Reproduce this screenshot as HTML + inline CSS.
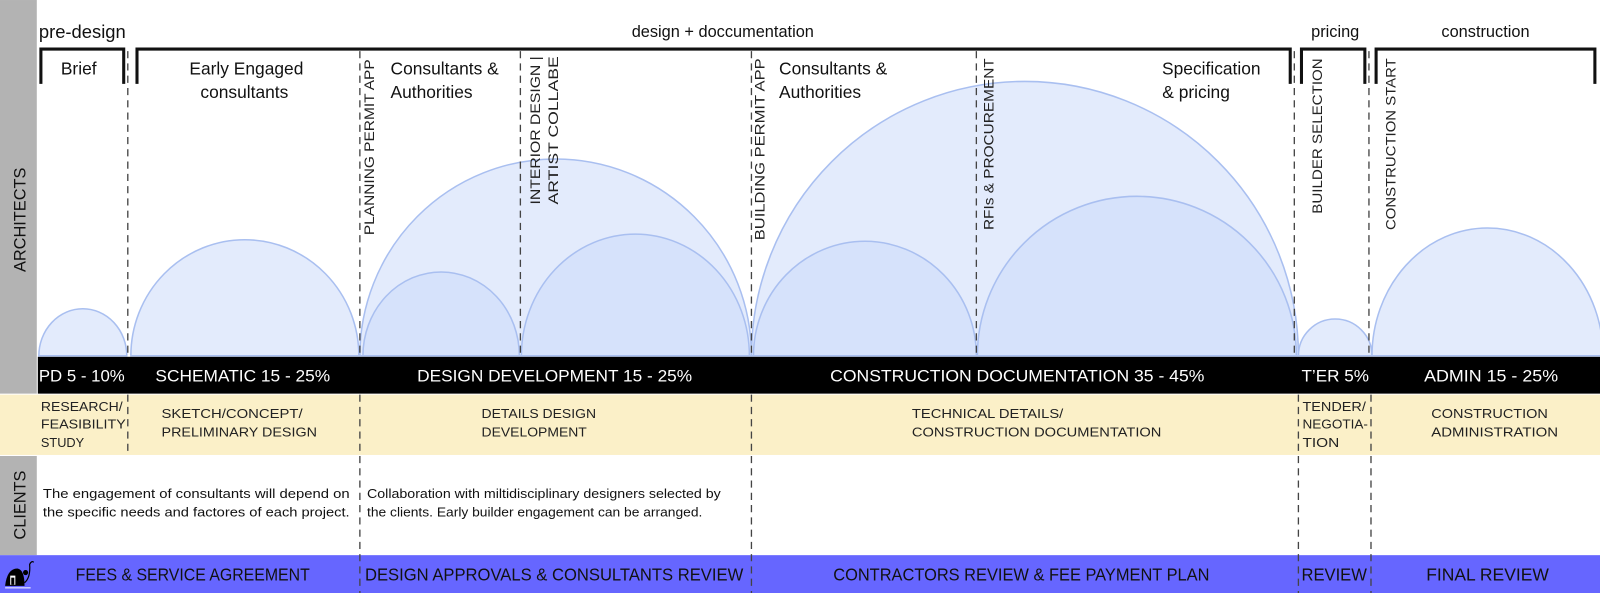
<!DOCTYPE html>
<html><head><meta charset="utf-8"><style>
html,body{margin:0;padding:0;background:#fff;}
svg{display:block;}
text{font-family:"Liberation Sans",sans-serif;}
</style></head><body>
<svg width="1600" height="593" viewBox="0 0 1565 580" xmlns="http://www.w3.org/2000/svg">
<rect x="0" y="0" width="1565" height="580" fill="#fff"/>
<rect x="0" y="0" width="36" height="385" fill="#b3b3b3"/>
<rect x="0" y="446" width="36" height="97" fill="#b3b3b3"/>
<text transform="translate(25,215) rotate(-90)" font-size="16" text-anchor="middle" fill="#111">ARCHITECTS</text>
<text transform="translate(25,494) rotate(-90)" font-size="16" text-anchor="middle" fill="#111">CLIENTS</text>

<g stroke="#a9bff0" stroke-width="1.5">
<path d="M38,348 A43,46 0 0 1 124,348 Z" fill="#e3ebfc"/>
<path d="M128,348 A111,113 0 0 1 351,348 Z" fill="#e3ebfc"/>
<path d="M352,348 A191,192 0 0 1 735,348 Z" fill="#e3ebfc"/>
<path d="M355,348 A76.5,82 0 0 1 508,348 Z" fill="#d6e2fb"/>
<path d="M510,348 A111.5,119 0 0 1 733,348 Z" fill="#d6e2fb"/>
<path d="M735,348 A267,268 0 0 1 1270,348 Z" fill="#e3ebfc"/>
<path d="M737,348 A109,112 0 0 1 955,348 Z" fill="#d6e2fb"/>
<path d="M956,348 A156,156 0 0 1 1268,348 Z" fill="#d6e2fb"/>
<path d="M1270,348 A36,36 0 0 1 1342,348 Z" fill="#e3ebfc"/>
<path d="M1342,348 A113,125 0 0 1 1568,348 Z" fill="#e3ebfc"/>
</g>

<rect x="37" y="349" width="1528" height="36" fill="#000"/>
<rect x="0" y="386" width="1565" height="59" fill="#fbf0c8"/>
<rect x="0" y="543" width="1565" height="38" fill="#6666ff"/>

<g stroke="#444" stroke-width="1.3" stroke-dasharray="7,5">
<line x1="125" y1="50" x2="125" y2="348"/><line x1="125" y1="386" x2="125" y2="445"/>
<line x1="352" y1="50" x2="352" y2="348"/><line x1="352" y1="386" x2="352" y2="581"/>
<line x1="509" y1="50" x2="509" y2="348"/>
<line x1="735" y1="50" x2="735" y2="348"/><line x1="735" y1="386" x2="735" y2="581"/>
<line x1="955" y1="50" x2="955" y2="348"/>
<line x1="1266" y1="50" x2="1266" y2="348"/><line x1="1270" y1="386" x2="1270" y2="581"/>
<line x1="1339" y1="50" x2="1339" y2="348"/><line x1="1341" y1="386" x2="1341" y2="581"/>
</g>

<g fill="none" stroke="#111" stroke-width="3">
<path d="M40,82 V48 H121 V82"/>
<path d="M134,82 V48 H1262 V82"/>
<path d="M1273,82 V48 H1335 V82"/>
<path d="M1346,82 V48 H1560 V82"/>
</g>

<g fill="#111">
<text x="38" y="37" font-size="18">pre-design</text>
<text x="707" y="36" font-size="16" text-anchor="middle">design + doccumentation</text>
<text x="1306" y="36" font-size="16" text-anchor="middle">pricing</text>
<text x="1453" y="36" font-size="16" text-anchor="middle">construction</text>
<text x="77" y="73" font-size="17" text-anchor="middle">Brief</text>
<text x="241" y="73" font-size="17" text-anchor="middle">Early Engaged</text>
<text x="239" y="96" font-size="17" text-anchor="middle">consultants</text>
<text x="382" y="73" font-size="17">Consultants &amp;</text>
<text x="382" y="96" font-size="17">Authorities</text>
<text x="762" y="73" font-size="17">Consultants &amp;</text>
<text x="762" y="96" font-size="17">Authorities</text>
<text x="1233" y="73" font-size="17" text-anchor="end">Specification</text>
<text x="1203" y="96" font-size="17" text-anchor="end">&amp; pricing</text>
</g>

<g fill="#222" font-size="13.5">
<text transform="translate(366,230) rotate(-90)" textLength="172" lengthAdjust="spacingAndGlyphs">PLANNING PERMIT APP</text>
<text transform="translate(528,200) rotate(-90)" textLength="145" lengthAdjust="spacingAndGlyphs">INTERIOR DESIGN |</text>
<text transform="translate(546,200) rotate(-90)" textLength="145" lengthAdjust="spacingAndGlyphs">ARTIST COLLABE</text>
<text transform="translate(748,235) rotate(-90)" textLength="178" lengthAdjust="spacingAndGlyphs">BUILDING PERMIT APP</text>
<text transform="translate(972,225) rotate(-90)" textLength="168" lengthAdjust="spacingAndGlyphs">RFIs &amp; PROCUREMENT</text>
<text transform="translate(1293,209) rotate(-90)" textLength="152" lengthAdjust="spacingAndGlyphs">BUILDER SELECTION</text>
<text transform="translate(1365,225) rotate(-90)" textLength="168" lengthAdjust="spacingAndGlyphs">CONSTRUCTION START</text>
</g>

<g fill="#fff" font-size="16">
<text x="38" y="373" textLength="84" lengthAdjust="spacingAndGlyphs">PD 5 - 10%</text>
<text x="152" y="373" textLength="171" lengthAdjust="spacingAndGlyphs">SCHEMATIC 15 - 25%</text>
<text x="408" y="373" textLength="269" lengthAdjust="spacingAndGlyphs">DESIGN DEVELOPMENT 15 - 25%</text>
<text x="812" y="373" textLength="366" lengthAdjust="spacingAndGlyphs">CONSTRUCTION DOCUMENTATION 35 - 45%</text>
<text x="1273" y="373" textLength="66" lengthAdjust="spacingAndGlyphs">T’ER 5%</text>
<text x="1393" y="373" textLength="131" lengthAdjust="spacingAndGlyphs">ADMIN 15 - 25%</text>
</g>

<g fill="#222" font-size="12.5">
<text x="40" y="402" textLength="80" lengthAdjust="spacingAndGlyphs">RESEARCH/</text>
<text x="40" y="419" textLength="83" lengthAdjust="spacingAndGlyphs">FEASIBILITY</text>
<text x="40" y="437">STUDY</text>
<text x="158" y="409" textLength="138" lengthAdjust="spacingAndGlyphs">SKETCH/CONCEPT/</text>
<text x="158" y="427" textLength="152" lengthAdjust="spacingAndGlyphs">PRELIMINARY  DESIGN</text>
<text x="471" y="409" textLength="112" lengthAdjust="spacingAndGlyphs">DETAILS DESIGN</text>
<text x="471" y="427" textLength="103" lengthAdjust="spacingAndGlyphs">DEVELOPMENT</text>
<text x="892" y="409" textLength="148" lengthAdjust="spacingAndGlyphs">TECHNICAL DETAILS/</text>
<text x="892" y="427" textLength="244" lengthAdjust="spacingAndGlyphs">CONSTRUCTION  DOCUMENTATION</text>
<text x="1274" y="402" textLength="62" lengthAdjust="spacingAndGlyphs">TENDER/</text>
<text x="1274" y="419" textLength="64" lengthAdjust="spacingAndGlyphs">NEGOTIA-</text>
<text x="1274" y="437" textLength="36" lengthAdjust="spacingAndGlyphs">TION</text>
<text x="1400" y="409" textLength="114" lengthAdjust="spacingAndGlyphs">CONSTRUCTION</text>
<text x="1400" y="427" textLength="124" lengthAdjust="spacingAndGlyphs">ADMINISTRATION</text>
</g>

<g fill="#111" font-size="13">
<text x="42" y="487" textLength="300" lengthAdjust="spacingAndGlyphs">The engagement of consultants will depend on</text>
<text x="42" y="505" textLength="300" lengthAdjust="spacingAndGlyphs">the specific needs and factores of each project.</text>
<text x="359" y="487" textLength="346" lengthAdjust="spacingAndGlyphs">Collaboration with miltidisciplinary designers selected by</text>
<text x="359" y="505" textLength="328" lengthAdjust="spacingAndGlyphs">the clients. Early builder engagement can be arranged.</text>
</g>

<g fill="#111" font-size="17">
<text x="74" y="568" textLength="229" lengthAdjust="spacingAndGlyphs">FEES &amp; SERVICE AGREEMENT</text>
<text x="357" y="568" textLength="370" lengthAdjust="spacingAndGlyphs">DESIGN APPROVALS &amp; CONSULTANTS REVIEW</text>
<text x="815" y="568" textLength="368" lengthAdjust="spacingAndGlyphs">CONTRACTORS REVIEW &amp; FEE PAYMENT PLAN</text>
<text x="1273" y="568" textLength="64" lengthAdjust="spacingAndGlyphs">REVIEW</text>
<text x="1395" y="568" textLength="120" lengthAdjust="spacingAndGlyphs">FINAL REVIEW</text>
</g>

<path d="M5,573 Q7,556 17,556 Q24,557 24,573 Z" fill="#000"/>
<rect x="10" y="563" width="5" height="9" fill="#fff"/>
<rect x="11" y="565" width="3" height="7" fill="#000"/>
<path d="M24,570 Q30,565 29,552 Q31,548 33,550" fill="none" stroke="#000" stroke-width="1.2"/>
<circle cx="25" cy="560" r="2.5" fill="#000"/>
<line x1="5" y1="575" x2="30" y2="575" stroke="#fff" stroke-width="1"/>
</svg>
</body></html>
